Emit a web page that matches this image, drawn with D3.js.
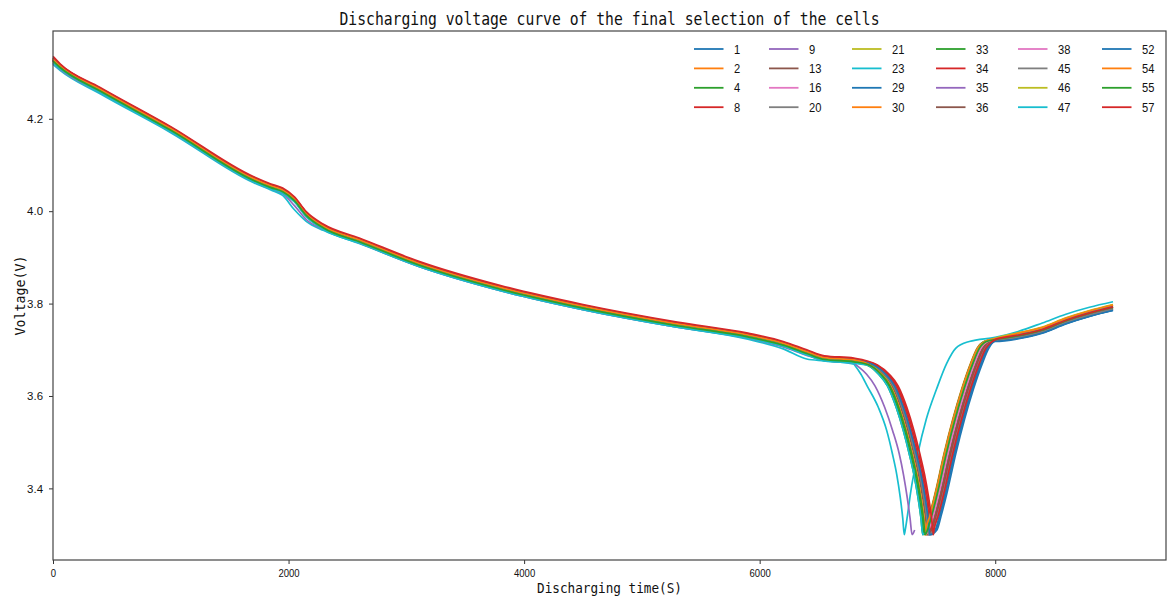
<!DOCTYPE html>
<html>
<head>
<meta charset="utf-8">
<script src="https://cdn.jsdelivr.net/npm/d3@7"></script>
<style>
body { margin: 0; background: #fff; }
svg { display: block; }
</style>
</head>
<body>
<div id="chart"></div>
<script>
// cell numbers, legend order (also draw order)
const cellIds = ['1', '2', '4', '8', '9', '13', '16', '20', '21', '23', '29', '30',
                 '33', '34', '35', '36', '38', '45', '46', '47', '52', '54', '55', '57'];

// slow discharge part: shared sample times (s) and voltage of each cell (V)
const smoothTimes = [0, 60, 400, 1000, 1700, 1850, 1950, 2050, 2150, 2300, 2600, 3100, 3800, 4500, 5300, 5900, 6200, 6400, 6550, 6800];
const smoothVolts = [
    [4.327, 4.313, 4.262, 4.177, 4.069, 4.053, 4.044, 4.025, 3.993, 3.965, 3.936, 3.886, 3.833, 3.792, 3.754, 3.730, 3.712, 3.694, 3.681, 3.676], // 1
    [4.329, 4.315, 4.264, 4.179, 4.071, 4.055, 4.046, 4.027, 3.995, 3.967, 3.938, 3.888, 3.835, 3.794, 3.756, 3.732, 3.714, 3.696, 3.683, 3.678], // 2
    [4.325, 4.311, 4.260, 4.175, 4.067, 4.051, 4.042, 4.023, 3.991, 3.963, 3.934, 3.884, 3.831, 3.790, 3.752, 3.728, 3.710, 3.692, 3.679, 3.674], // 4
    [4.332, 4.317, 4.266, 4.181, 4.073, 4.057, 4.048, 4.029, 3.997, 3.969, 3.940, 3.890, 3.837, 3.796, 3.758, 3.734, 3.716, 3.698, 3.685, 3.680], // 8
    [4.325, 4.311, 4.260, 4.175, 4.067, 4.051, 4.042, 4.023, 3.991, 3.963, 3.934, 3.884, 3.831, 3.790, 3.752, 3.728, 3.710, 3.692, 3.679, 3.674], // 9
    [4.327, 4.313, 4.262, 4.177, 4.069, 4.053, 4.044, 4.025, 3.993, 3.965, 3.936, 3.886, 3.833, 3.792, 3.754, 3.730, 3.712, 3.694, 3.681, 3.676], // 13
    [4.325, 4.311, 4.260, 4.175, 4.067, 4.051, 4.042, 4.023, 3.991, 3.963, 3.934, 3.884, 3.831, 3.790, 3.752, 3.728, 3.710, 3.692, 3.679, 3.674], // 16
    [4.327, 4.313, 4.262, 4.177, 4.069, 4.053, 4.044, 4.025, 3.993, 3.965, 3.936, 3.886, 3.833, 3.792, 3.754, 3.730, 3.712, 3.694, 3.681, 3.676], // 20
    [4.325, 4.311, 4.260, 4.175, 4.067, 4.051, 4.042, 4.023, 3.991, 3.963, 3.934, 3.884, 3.831, 3.790, 3.752, 3.728, 3.710, 3.692, 3.679, 3.674], // 21
    [4.318, 4.305, 4.254, 4.170, 4.062, 4.046, 4.034, 4.003, 3.978, 3.958, 3.930, 3.881, 3.828, 3.787, 3.749, 3.723, 3.702, 3.680, 3.676, 3.669], // 23
    [4.327, 4.313, 4.262, 4.177, 4.069, 4.053, 4.044, 4.025, 3.993, 3.965, 3.936, 3.886, 3.833, 3.792, 3.754, 3.730, 3.712, 3.694, 3.681, 3.676], // 29
    [4.329, 4.315, 4.264, 4.179, 4.071, 4.055, 4.046, 4.027, 3.995, 3.967, 3.938, 3.888, 3.835, 3.794, 3.756, 3.732, 3.714, 3.696, 3.683, 3.678], // 30
    [4.322, 4.309, 4.258, 4.173, 4.065, 4.049, 4.040, 4.021, 3.989, 3.961, 3.932, 3.882, 3.829, 3.788, 3.750, 3.726, 3.708, 3.690, 3.677, 3.672], // 33
    [4.332, 4.317, 4.266, 4.181, 4.073, 4.057, 4.048, 4.029, 3.997, 3.969, 3.940, 3.890, 3.837, 3.796, 3.758, 3.734, 3.716, 3.698, 3.685, 3.680], // 34
    [4.320, 4.307, 4.257, 4.172, 4.064, 4.048, 4.038, 4.012, 3.982, 3.960, 3.931, 3.881, 3.828, 3.787, 3.749, 3.725, 3.706, 3.688, 3.677, 3.671], // 35
    [4.327, 4.313, 4.262, 4.177, 4.069, 4.053, 4.044, 4.025, 3.993, 3.965, 3.936, 3.886, 3.833, 3.792, 3.754, 3.730, 3.712, 3.694, 3.681, 3.676], // 36
    [4.325, 4.311, 4.260, 4.175, 4.067, 4.051, 4.042, 4.023, 3.991, 3.963, 3.934, 3.884, 3.831, 3.790, 3.752, 3.728, 3.710, 3.692, 3.679, 3.674], // 38
    [4.327, 4.313, 4.262, 4.177, 4.069, 4.053, 4.044, 4.025, 3.993, 3.965, 3.936, 3.886, 3.833, 3.792, 3.754, 3.730, 3.712, 3.694, 3.681, 3.676], // 45
    [4.325, 4.311, 4.260, 4.175, 4.067, 4.051, 4.042, 4.023, 3.991, 3.963, 3.934, 3.884, 3.831, 3.790, 3.752, 3.728, 3.710, 3.692, 3.679, 3.674], // 46
    [4.320, 4.308, 4.257, 4.172, 4.064, 4.048, 4.039, 4.020, 3.988, 3.960, 3.931, 3.881, 3.828, 3.787, 3.749, 3.725, 3.707, 3.689, 3.676, 3.671], // 47
    [4.329, 4.315, 4.264, 4.179, 4.071, 4.055, 4.046, 4.027, 3.995, 3.967, 3.938, 3.888, 3.835, 3.794, 3.756, 3.732, 3.714, 3.696, 3.683, 3.678], // 52
    [4.329, 4.315, 4.264, 4.179, 4.071, 4.055, 4.046, 4.027, 3.995, 3.967, 3.938, 3.888, 3.835, 3.794, 3.756, 3.732, 3.714, 3.696, 3.683, 3.678], // 54
    [4.325, 4.311, 4.260, 4.175, 4.067, 4.051, 4.042, 4.023, 3.991, 3.963, 3.934, 3.884, 3.831, 3.790, 3.752, 3.728, 3.710, 3.692, 3.679, 3.674], // 55
    [4.335, 4.319, 4.268, 4.183, 4.075, 4.059, 4.050, 4.031, 3.999, 3.971, 3.942, 3.892, 3.839, 3.798, 3.760, 3.736, 3.718, 3.700, 3.687, 3.682]  // 57
];

// final drop to the 3.3 V cut-off: voltage levels, and the time each cell passes them
const dropLevels = [3.667, 3.647, 3.622, 3.575, 3.525, 3.475, 3.43, 3.38, 3.335, 3.30];
const dropTimes = [
    [6960, 7060, 7135, 7210, 7270, 7320, 7360, 7395, 7420, 7435], // 1
    [6925, 7025, 7100, 7175, 7235, 7285, 7325, 7360, 7385, 7400], // 2
    [6920, 7020, 7095, 7170, 7230, 7280, 7320, 7355, 7380, 7395], // 4
    [6990, 7090, 7165, 7240, 7300, 7350, 7390, 7425, 7450, 7465], // 8
    [6940, 7040, 7115, 7190, 7250, 7300, 7340, 7375, 7400, 7415], // 9
    [6950, 7050, 7125, 7200, 7260, 7310, 7350, 7385, 7410, 7425], // 13
    [6940, 7040, 7115, 7190, 7250, 7300, 7340, 7375, 7400, 7415], // 16
    [6955, 7055, 7130, 7205, 7265, 7315, 7355, 7390, 7415, 7430], // 20
    [6935, 7035, 7110, 7185, 7245, 7295, 7335, 7370, 7395, 7410], // 21
    [6806, 6860, 6912, 7008, 7079, 7127, 7164, 7194, 7215, 7228], // 23
    [6965, 7065, 7140, 7215, 7275, 7325, 7365, 7400, 7425, 7440], // 29
    [6940, 7040, 7115, 7190, 7250, 7300, 7340, 7375, 7400, 7415], // 30
    [6910, 7010, 7085, 7160, 7220, 7270, 7310, 7345, 7370, 7385], // 33
    [6980, 7080, 7155, 7230, 7290, 7340, 7380, 7415, 7440, 7455], // 34
    [6821, 6908, 6979, 7062, 7129, 7185, 7221, 7253, 7277, 7294], // 35
    [6950, 7050, 7125, 7200, 7260, 7310, 7350, 7385, 7410, 7425], // 36
    [6935, 7035, 7110, 7185, 7245, 7295, 7335, 7370, 7395, 7410], // 38
    [6960, 7060, 7135, 7210, 7270, 7320, 7360, 7395, 7420, 7435], // 45
    [6935, 7035, 7110, 7185, 7245, 7295, 7335, 7370, 7395, 7410], // 46
    [6910, 7010, 7085, 7160, 7220, 7270, 7310, 7345, 7370, 7385], // 47
    [6970, 7070, 7145, 7220, 7280, 7330, 7370, 7405, 7430, 7445], // 52
    [6935, 7035, 7110, 7185, 7245, 7295, 7335, 7370, 7395, 7410], // 54
    [6930, 7030, 7105, 7180, 7240, 7290, 7330, 7365, 7390, 7405], // 55
    [7000, 7100, 7175, 7250, 7310, 7360, 7400, 7435, 7460, 7475]  // 57
];

// recovery after the cut-off: voltage levels, and the time each cell passes them
const riseLevels = [3.31, 3.34, 3.39, 3.475, 3.55, 3.615, 3.67, 3.703, 3.718];
const riseTimes = [
    [7490, 7525, 7575, 7650, 7725, 7800, 7875, 7930, 7988], // 1
    [7405, 7440, 7490, 7565, 7640, 7715, 7790, 7845, 7905], // 2
    [7415, 7450, 7500, 7575, 7650, 7725, 7800, 7855, 7915], // 4
    [7470, 7505, 7555, 7630, 7705, 7780, 7855, 7910, 7968], // 8
    [7445, 7480, 7530, 7605, 7680, 7755, 7830, 7885, 7945], // 9
    [7450, 7485, 7535, 7610, 7685, 7760, 7835, 7890, 7950], // 13
    [7440, 7475, 7525, 7600, 7675, 7750, 7825, 7880, 7940], // 16
    [7465, 7500, 7550, 7625, 7700, 7775, 7850, 7905, 7965], // 20
    [7425, 7460, 7510, 7585, 7660, 7735, 7810, 7865, 7925], // 21
    [7236, 7254, 7281, 7343, 7415, 7502, 7587, 7664, 7780], // 23
    [7495, 7530, 7580, 7655, 7730, 7805, 7880, 7935, 7990], // 29
    [7418, 7453, 7503, 7578, 7653, 7728, 7803, 7858, 7918], // 30
    [7408, 7443, 7493, 7568, 7643, 7718, 7793, 7848, 7908], // 33
    [7462, 7497, 7547, 7622, 7697, 7772, 7847, 7902, 7960], // 34
    [7316],                                                 // 35 (record stops)
    [7455, 7490, 7540, 7615, 7690, 7765, 7840, 7895, 7955], // 36
    [7435, 7470, 7520, 7595, 7670, 7745, 7820, 7875, 7935], // 38
    [7475, 7510, 7560, 7635, 7710, 7785, 7860, 7915, 7975], // 45
    [7420, 7455, 7505, 7580, 7655, 7730, 7805, 7860, 7920], // 46
    [7412, 7447, 7497, 7572, 7647, 7722, 7797, 7852, 7912], // 47
    [7505, 7540, 7590, 7665, 7740, 7815, 7890, 7945, 7995], // 52
    [7410, 7445, 7495, 7570, 7645, 7720, 7795, 7850, 7910], // 54
    [7425, 7460, 7510, 7585, 7660, 7735, 7810, 7865, 7925], // 55
    [7480, 7515, 7565, 7640, 7715, 7790, 7865, 7920, 7975]  // 57
];

// rest tail: shared times (s) and voltage of each cell (V)
const tailTimes = [8000, 8200, 8400, 8600, 8800, 9000];
const tailVolts = [
    [3.719, 3.725, 3.737, 3.757, 3.773, 3.786], // 1
    [3.724, 3.735, 3.747, 3.767, 3.783, 3.796], // 2
    [3.722, 3.731, 3.743, 3.763, 3.779, 3.792], // 4
    [3.722, 3.731, 3.743, 3.763, 3.779, 3.792], // 8
    [3.721, 3.729, 3.741, 3.761, 3.777, 3.790], // 9
    [3.721, 3.729, 3.741, 3.761, 3.777, 3.790], // 13
    [3.722, 3.731, 3.743, 3.763, 3.779, 3.792], // 16
    [3.720, 3.727, 3.739, 3.759, 3.775, 3.788], // 20
    [3.724, 3.736, 3.748, 3.768, 3.784, 3.797], // 21
    [3.727, 3.740, 3.758, 3.777, 3.792, 3.804], // 23
    [3.719, 3.725, 3.737, 3.757, 3.773, 3.786], // 29
    [3.724, 3.735, 3.747, 3.767, 3.783, 3.796], // 30
    [3.722, 3.732, 3.744, 3.764, 3.780, 3.793], // 33
    [3.722, 3.730, 3.742, 3.762, 3.778, 3.791], // 34
    [],                                         // 35
    [3.720, 3.728, 3.740, 3.760, 3.776, 3.789], // 36
    [3.722, 3.732, 3.744, 3.764, 3.780, 3.793], // 38
    [3.720, 3.727, 3.739, 3.759, 3.775, 3.788], // 45
    [3.725, 3.737, 3.749, 3.769, 3.785, 3.798], // 46
    [3.723, 3.733, 3.745, 3.765, 3.781, 3.794], // 47
    [3.718, 3.724, 3.736, 3.756, 3.772, 3.785], // 52
    [3.724, 3.736, 3.748, 3.768, 3.784, 3.797], // 54
    [3.722, 3.731, 3.743, 3.763, 3.779, 3.792], // 55
    [3.722, 3.732, 3.744, 3.764, 3.780, 3.793]  // 57
];

const xTicks = [0, 2000, 4000, 6000, 8000];
const yTicks = [3.4, 3.6, 3.8, 4.0, 4.2];

const palette = ['#1f77b4', '#ff7f0e', '#2ca02c', '#d62728', '#9467bd',
                 '#8c564b', '#e377c2', '#7f7f7f', '#bcbd22', '#17becf'];

// build one point list per cell
const series = cellIds.map((id, i) => {
    const pts = smoothTimes.map((t, j) => [t, smoothVolts[i][j]]);
    dropTimes[i].forEach((t, j) => pts.push([t, dropLevels[j]]));
    riseTimes[i].forEach((t, j) => pts.push([t, riseLevels[j]]));
    tailVolts[i].forEach((v, j) => pts.push([tailTimes[j], v]));
    return { id, color: palette[i % 10], pts };
});

const width = 1169, height = 600;
const plot = { left: 53, right: 1166, top: 31, bottom: 560 };

const svg = d3.select('#chart').append('svg')
    .attr('width', width)
    .attr('height', height);

const xScale = d3.scaleLinear().domain([0, 9450]).range([plot.left, plot.right]);
const yScale = d3.scaleLinear().domain([3.245, 4.39]).range([plot.bottom, plot.top]);

const line = d3.line()
    .x(d => xScale(d[0]))
    .y(d => yScale(d[1]))
    .curve(d3.curveMonotoneX);

svg.append('g').selectAll('path').data(series).enter().append('path')
    .attr('fill', 'none')
    .attr('stroke', d => d.color)
    .attr('stroke-width', 1.7)
    .attr('stroke-linejoin', 'round')
    .attr('d', d => line(d.pts));

// axes
const tickFont = 'Liberation Sans, Arial, sans-serif';

const xAxis = svg.append('g')
    .attr('transform', `translate(0,${plot.bottom})`)
    .call(d3.axisBottom(xScale).tickValues(xTicks).tickFormat(d3.format('d'))
        .tickSize(4).tickPadding(5).tickSizeOuter(0));
xAxis.select('.domain').remove();

const yAxis = svg.append('g')
    .attr('transform', `translate(${plot.left},0)`)
    .call(d3.axisLeft(yScale).tickValues(yTicks).tickFormat(d3.format('.1f'))
        .tickSize(4).tickPadding(6).tickSizeOuter(0));
yAxis.select('.domain').remove();

[xAxis, yAxis].forEach(ax => {
    ax.selectAll('line').attr('stroke', '#333');
    ax.selectAll('text')
        .style('font-family', tickFont)
        .style('font-size', '11.5px')
        .style('fill', '#111')
        .attr('textLength', function () { return this.textContent.length * 5.3; })
        .attr('lengthAdjust', 'spacingAndGlyphs');
});

// frame
svg.append('rect')
    .attr('x', plot.left)
    .attr('y', plot.top)
    .attr('width', plot.right - plot.left)
    .attr('height', plot.bottom - plot.top)
    .attr('fill', 'none')
    .attr('stroke', '#444')
    .attr('stroke-width', 1.2);

// title and axis labels
const monoFont = 'DejaVu Sans Mono, Liberation Mono, monospace';
const midX = (plot.left + plot.right) / 2;

svg.append('text')
    .attr('x', midX).attr('y', 25)
    .attr('text-anchor', 'middle')
    .attr('textLength', 540).attr('lengthAdjust', 'spacingAndGlyphs')
    .style('font-family', monoFont).style('font-size', '17px').style('fill', '#111')
    .text('Discharging voltage curve of the final selection of the cells');

svg.append('text')
    .attr('x', midX).attr('y', 593)
    .attr('text-anchor', 'middle')
    .attr('textLength', 145).attr('lengthAdjust', 'spacingAndGlyphs')
    .style('font-family', monoFont).style('font-size', '14.5px').style('fill', '#111')
    .text('Discharging time(S)');

svg.append('text')
    .attr('transform', `translate(25,${(plot.top + plot.bottom) / 2}) rotate(-90)`)
    .attr('text-anchor', 'middle')
    .attr('textLength', 80).attr('lengthAdjust', 'spacingAndGlyphs')
    .style('font-family', monoFont).style('font-size', '14.5px').style('fill', '#111')
    .text('Voltage(V)');

// legend: 6 columns of 4 entries
const legendColX = [694, 769, 852, 936, 1018, 1102];
const legendRowY = 49, legendRowStep = 19.4;

const legend = svg.append('g').selectAll('g').data(series).enter().append('g')
    .attr('transform', (d, i) =>
        `translate(${legendColX[Math.floor(i / 4)]},${legendRowY + (i % 4) * legendRowStep})`);

legend.append('line')
    .attr('x1', 0).attr('x2', 29.5)
    .attr('stroke', d => d.color)
    .attr('stroke-width', 1.8);

legend.append('text')
    .attr('x', 40).attr('dy', '0.36em')
    .attr('textLength', d => d.id.length * 6.2)
    .attr('lengthAdjust', 'spacingAndGlyphs')
    .style('font-family', tickFont).style('font-size', '12.5px').style('fill', '#111')
    .text(d => d.id);
</script>
</body>
</html>
